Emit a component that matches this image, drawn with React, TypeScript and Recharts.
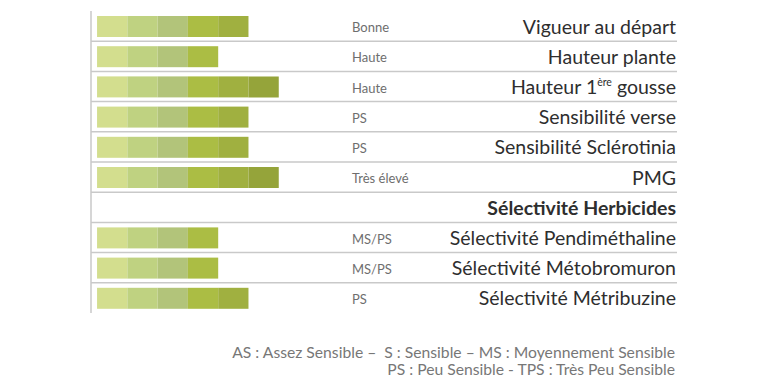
import React from 'react'
import { BarChart, Bar, XAxis, YAxis, CartesianGrid } from 'recharts'

// Variety traits, top to bottom
const traits = [
  'Vigueur au départ',
  'Hauteur plante',
  'Hauteur 1ère gousse',
  'Sensibilité verse',
  'Sensibilité Sclérotinia',
  'PMG',
  'Sélectivité Herbicides',
  'Sélectivité Pendiméthaline',
  'Sélectivité Métobromuron',
  'Sélectivité Métribuzine',
]
const ratings = ['Bonne', 'Haute', 'Haute', 'PS', 'PS', 'Très élevé', '', 'MS/PS', 'MS/PS', 'PS']
const scores = [5, 4, 6, 5, 5, 6, 0, 4, 4, 5]
const headerRow = 'Sélectivité Herbicides'
const segmentColors = ['#d3de8e', '#bfd281', '#b2c47a', '#abbd44', '#a0b040', '#95a43a']
const footnotes = [
  'AS : Assez Sensible –  S : Sensible – MS : Moyennement Sensible',
  'PS : Peu Sensible - TPS : Très Peu Sensible',
]

const chartData = traits.map((name, i) => {
  const row: Record<string, string | number> = { name, rating: ratings[i] }
  segmentColors.forEach((_, k) => {
    row['s' + k] = k < scores[i] ? 1 : 0
  })
  return row
})

const font = 'Lato, "Open Sans", sans-serif'

// left axis sits at x=91; both text columns are placed relative to it
function TraitTick(props: any) {
  const { x, y, payload } = props
  const i = traits.indexOf(payload.value)
  const name: string = payload.value
  const isHeader = name === headerRow
  let label: React.ReactNode = name
  if (name.includes('1ère')) {
    const [before, after] = name.split('1ère')
    label = (
      <>
        {before}1
        <tspan dy={-8} fontSize={10.5}>ère</tspan>
        <tspan dy={8}>{after}</tspan>
      </>
    )
  }
  return (
    <g>
      <text
        x={x + 261}
        y={y}
        dy={6}
        textAnchor="start"
        fontSize={13}
        fill="#6e6e6e"
        fontFamily={font}
      >
        {ratings[i]}
      </text>
      <text
        x={x + 585}
        y={y}
        dy={7.5}
        textAnchor="end"
        fontSize={19.5}
        fontWeight={isHeader ? 700 : 400}
        fill="#2e2e2e"
        fontFamily={font}
      >
        {label}
      </text>
    </g>
  )
}

export default function App() {
  return (
    <div style={{ position: 'absolute', left: 0, top: 0, width: 768, height: 384, fontFamily: font }}>
      <BarChart
        width={768}
        height={330}
        data={chartData}
        layout="vertical"
        margin={{ top: 11, right: 91, left: 0, bottom: 17 }}
        barSize={21}
      >
        <CartesianGrid
          vertical={false}
          stroke="#c9c9c9"
          strokeWidth={1.5}
          horizontalCoordinatesGenerator={({ offset }: any) =>
            traits.slice(1).map((_, i) => offset.top + ((i + 1) * offset.height) / traits.length)
          }
        />
        <XAxis type="number" hide domain={[-0.2, 19.15]} />
        <YAxis
          type="category"
          dataKey="name"
          width={91}
          interval={0}
          tickLine={false}
          tickSize={0}
          tickMargin={0}
          axisLine={{ stroke: '#c9c9c9', strokeWidth: 1.5 }}
          tick={<TraitTick />}
        />
        {segmentColors.map((color, k) => (
          <Bar
            key={k}
            dataKey={'s' + k}
            stackId="score"
            fill={color}
            isAnimationActive={false}
          />
        ))}
      </BarChart>
      <div
        style={{
          position: 'absolute',
          right: 93,
          top: 344,
          textAlign: 'right',
          fontSize: 15.7,
          lineHeight: '17px',
          color: '#777',
          whiteSpace: 'pre',
        }}
      >
        {footnotes.map((line, i) => (
          <div key={i}>{line}</div>
        ))}
      </div>
    </div>
  )
}
